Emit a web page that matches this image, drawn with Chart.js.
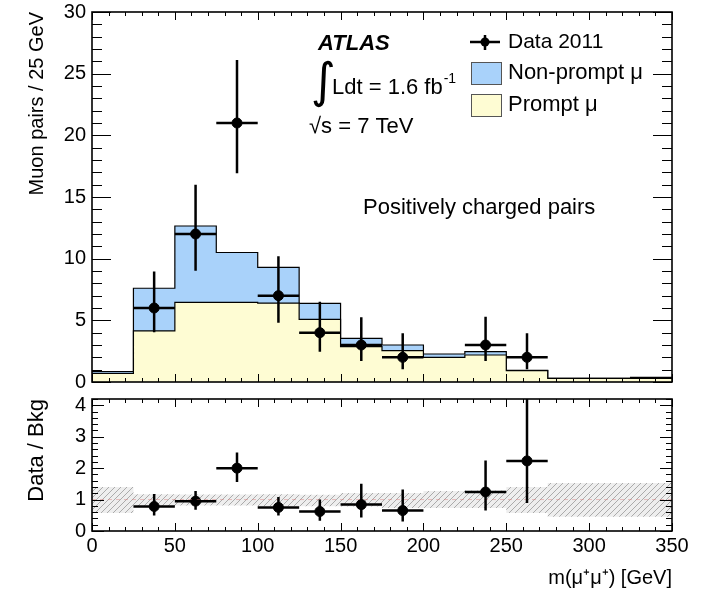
<!DOCTYPE html>
<html>
<head>
<meta charset="utf-8">
<script src="https://cdn.jsdelivr.net/npm/chart.js@4.4.0/dist/chart.umd.min.js"></script>
<style>
  html, body { margin: 0; padding: 0; background: #fff; }
  #wrap { position: relative; width: 701px; height: 593px; }
  #topBox { position: absolute; left: 0; top: 0; width: 701px; height: 392px; }
  #ratioBox { position: absolute; left: 0; top: 392px; width: 701px; height: 201px; }
</style>
</head>
<body>
<div id="wrap">
  <div id="topBox"><canvas id="mainChart"></canvas></div>
  <div id="ratioBox"><canvas id="ratioChart"></canvas></div>
</div>
<script>
// ---- data (25 GeV bins) ----
var binEdges   = [0, 25, 50, 75, 100, 125, 150, 175, 200, 225, 250, 275, 300, 325, 350];
var binCentres = [12.5, 37.5, 62.5, 87.5, 112.5, 137.5, 162.5, 187.5, 212.5, 237.5, 262.5, 287.5, 312.5, 337.5];

var promptMu    = [0.70, 4.14, 6.46, 6.46, 6.40, 5.08, 2.87, 2.54, 2.00, 2.19, 0.92, 0.30, 0.30, 0.30];
var nonPromptMu = [0.15, 3.46, 6.19, 4.04, 2.90, 1.30, 0.67, 0.46, 0.27, 0.27, 0.02, 0.00, 0.00, 0.08];

var data2011   = [null, 6, 12, 21, 7, 4, 3, 2, null, 3, 2, null, null, null];
var dataErrLo  = [null, 4.03, 9.03, 16.93, 4.81, 2.46, 1.70, 1.03, null, 1.70, 1.03, null, null, null];
var dataErrHi  = [null, 8.95, 16.0, 26.1, 10.2, 6.50, 5.25, 3.95, null, 5.30, 3.95, null, null, null];

var ratio      = [null, 0.78, 0.95, 2.00, 0.75, 0.62, 0.84, 0.65, null, 1.24, 2.23, null, null, null];
var ratioErrLo = [null, 0.49, 0.68, 1.56, 0.49, 0.33, 0.43, 0.30, null, 0.65, 0.89, null, null, null];
var ratioErrHi = [null, 1.18, 1.27, 2.50, 1.08, 1.00, 1.50, 1.32, null, 2.24, 4.40, null, null, null];

var bandLo = [0.57, 0.79, 0.81, 0.81, 0.79, 0.79, 0.78, 0.73, 0.73, 0.73, 0.57, 0.45, 0.45, 0.45];
var bandHi = [1.40, 1.17, 1.16, 1.16, 1.17, 1.15, 1.21, 1.21, 1.27, 1.29, 1.40, 1.53, 1.53, 1.53];

var blueFill = '#a9d2fa';
var yellowFill = '#fefcd3';

Chart.defaults.font.family = "'Liberation Sans', Arial, Helvetica, sans-serif";
Chart.defaults.font.size = 20;
Chart.defaults.color = '#000';

// histogram outline points: value of bin i is held from edge i to edge i+1
function histPoints(vals) {
    var pts = [];
    for (var i = 0; i < vals.length; i++) {
        pts.push({ x: binEdges[i], y: vals[i] });
    }
    pts.push({ x: binEdges[vals.length], y: vals[vals.length - 1] });
    return pts;
}

function centrePoints(vals) {
    var pts = [];
    for (var i = 0; i < vals.length; i++) {
        if (vals[i] !== null) pts.push({ x: binCentres[i], y: vals[i] });
    }
    return pts;
}

var totalBkg = promptMu.map(function(v, i) { return v + nonPromptMu[i]; });

function hatchPattern() {
    var c = document.createElement('canvas');
    c.width = 6; c.height = 6;
    var g = c.getContext('2d');
    g.fillStyle = '#eeeeee';
    g.fillRect(0, 0, 6, 6);
    g.strokeStyle = '#ababab';
    g.lineWidth = 1;
    g.beginPath();
    g.moveTo(0, 6); g.lineTo(6, 0);
    g.moveTo(-1, 1); g.lineTo(1, -1);
    g.moveTo(5, 7); g.lineTo(7, 5);
    g.stroke();
    return g.createPattern(c, 'repeat');
}

// ---- ROOT style frame with inward ticks on all four sides ----
function tickValues(min, max, step) {
    var out = [];
    for (var k = 0; min + k * step <= max + 1e-9; k++) out.push(min + k * step);
    return out;
}

function framePlugin(cfg) {
    return {
        id: 'frame',
        afterDraw: function(chart) {
            var ctx = chart.ctx, a = chart.chartArea;
            var xs = chart.scales.x, ys = chart.scales.y;
            ctx.save();
            ctx.strokeStyle = '#000';
            ctx.lineWidth = 1;
            ctx.beginPath();
            tickValues(xs.min, xs.max, cfg.xMinor).forEach(function(v) {
                var major = Math.abs(v / cfg.xMajor - Math.round(v / cfg.xMajor)) < 1e-6;
                var len = major ? cfg.xMajLen : cfg.xMinLen;
                var px = Math.round(xs.getPixelForValue(v)) + 0.5;
                ctx.moveTo(px, a.bottom); ctx.lineTo(px, a.bottom - len);
                ctx.moveTo(px, a.top); ctx.lineTo(px, a.top + len);
            });
            tickValues(ys.min, ys.max, cfg.yMinor).forEach(function(v) {
                var major = Math.abs(v / cfg.yMajor - Math.round(v / cfg.yMajor)) < 1e-6;
                var len = major ? cfg.yMajLen : cfg.yMinLen;
                var py = Math.round(ys.getPixelForValue(v)) + 0.5;
                ctx.moveTo(a.left, py); ctx.lineTo(a.left + len, py);
                ctx.moveTo(a.right, py); ctx.lineTo(a.right - len, py);
            });
            ctx.stroke();
            ctx.lineWidth = 1.6;
            ctx.strokeRect(a.left, a.top, a.right - a.left, a.bottom - a.top);
            ctx.restore();
        }
    };
}

function errorBarPlugin(vals, lo, hi, refLine) {
    return {
        id: 'errorBars',
        afterDatasetsDraw: function(chart) {
            var ctx = chart.ctx, a = chart.chartArea;
            var xs = chart.scales.x, ys = chart.scales.y;
            ctx.save();
            ctx.beginPath();
            ctx.rect(a.left, a.top, a.right - a.left, a.bottom - a.top);
            ctx.clip();
            if (refLine) {
                ctx.strokeStyle = 'rgba(215, 120, 120, 0.45)';
                ctx.lineWidth = 1;
                ctx.setLineDash([4, 4]);
                ctx.beginPath();
                var y1 = ys.getPixelForValue(1);
                ctx.moveTo(a.left, y1); ctx.lineTo(a.right, y1);
                ctx.stroke();
                ctx.setLineDash([]);
            }
            ctx.strokeStyle = '#000';
            ctx.lineWidth = 2.5;
            ctx.beginPath();
            for (var i = 0; i < vals.length; i++) {
                if (vals[i] === null) continue;
                var py = ys.getPixelForValue(vals[i]);
                var px = xs.getPixelForValue(binCentres[i]);
                ctx.moveTo(xs.getPixelForValue(binEdges[i]), py);
                ctx.lineTo(xs.getPixelForValue(binEdges[i + 1]), py);
                ctx.moveTo(px, ys.getPixelForValue(lo[i]));
                ctx.lineTo(px, ys.getPixelForValue(hi[i]));
            }
            ctx.stroke();
            ctx.restore();
        }
    };
}

var labelsPlugin = {
    id: 'atlasLabels',
    afterDraw: function(chart) {
        var ctx = chart.ctx;
        var f = "'Liberation Sans', Arial, Helvetica, sans-serif";
        ctx.save();
        ctx.fillStyle = '#000';
        ctx.textBaseline = 'middle';
        ctx.textAlign = 'left';

        ctx.font = 'italic bold 22px ' + f;
        ctx.fillText('ATLAS', 318, 44);

        ctx.font = '48px DejaVu Sans';
        ctx.fillText('\u222B', 311, 85);
        ctx.font = '22px ' + f;
        ctx.fillText('Ldt = 1.6 fb', 332, 88);
        var w = ctx.measureText('Ldt = 1.6 fb').width;
        ctx.font = '14px ' + f;
        ctx.fillText('-1', 332 + w + 1, 79);

        ctx.font = '22px ' + f;
        ctx.fillText('\u221As = 7 TeV', 309, 127);

        ctx.fillText('Positively charged pairs', 363, 208);

        // legend
        ctx.strokeStyle = '#000';
        ctx.lineWidth = 2.5;
        ctx.beginPath();
        ctx.moveTo(470, 42); ctx.lineTo(500, 42);
        ctx.moveTo(485, 35); ctx.lineTo(485, 50);
        ctx.stroke();
        ctx.beginPath();
        ctx.arc(485, 42, 4.5, 0, Math.PI * 2);
        ctx.fill();
        ctx.font = '21px ' + f;
        ctx.fillText('Data 2011', 508, 42);

        ctx.lineWidth = 1;
        ctx.strokeStyle = '#555';
        ctx.fillStyle = blueFill;
        ctx.fillRect(471, 62, 30, 22);
        ctx.strokeRect(471.5, 62.5, 30, 22);
        ctx.fillStyle = yellowFill;
        ctx.fillRect(471, 94, 30, 22);
        ctx.strokeRect(471.5, 94.5, 30, 22);
        ctx.fillStyle = '#000';
        ctx.font = '22px ' + f;
        ctx.fillText('Non-prompt \u03BC', 508, 73);
        ctx.fillText('Prompt \u03BC', 508, 105);
        ctx.restore();
    }
};

var noGrid = { display: false, drawTicks: false };

function fixWidth(w) {
    return function(s) { s.width = w; s.paddingTop = 0; s.paddingBottom = 0; };
}
function fixHeight(h) {
    return function(s) { s.height = h; s.paddingLeft = 0; s.paddingRight = 0; };
}

// ---- upper panel ----
new Chart(document.getElementById('mainChart'), {
    type: 'scatter',
    data: {
        datasets: [
            {
                label: 'Data 2011',
                data: centrePoints(data2011),
                pointRadius: 5,
                pointBackgroundColor: '#000',
                pointBorderColor: '#000',
                showLine: false
            },
            {
                label: 'Prompt \u03BC',
                data: histPoints(promptMu),
                showLine: true,
                stepped: 'before',
                borderColor: '#000',
                borderWidth: 1.2,
                backgroundColor: yellowFill,
                fill: 'origin',
                pointRadius: 0
            },
            {
                label: 'Non-prompt \u03BC',
                data: histPoints(totalBkg),
                showLine: true,
                stepped: 'before',
                borderColor: '#000',
                borderWidth: 1.2,
                backgroundColor: blueFill,
                fill: '-1',
                pointRadius: 0
            }
        ]
    },
    options: {
        responsive: true,
        maintainAspectRatio: false,
        animation: false,
        events: [],
        layout: { padding: { top: 12, right: 29, bottom: 10, left: 0 } },
        plugins: { legend: { display: false }, tooltip: { enabled: false } },
        scales: {
            x: {
                type: 'linear', min: 0, max: 350,
                ticks: { display: false, stepSize: 50 },
                grid: noGrid, border: { display: false },
                afterFit: fixHeight(0)
            },
            y: {
                min: 0, max: 30,
                ticks: { stepSize: 5, padding: 6 },
                grid: noGrid, border: { display: false },
                title: { display: true, text: 'Muon pairs / 25 GeV', align: 'end', padding: { top: 25, bottom: 0 } },
                afterFit: fixWidth(92)
            }
        }
    },
    plugins: [
        errorBarPlugin(data2011, dataErrLo, dataErrHi, false),
        framePlugin({ xMajor: 50, xMinor: 10, yMajor: 5, yMinor: 1, xMajLen: 8, xMinLen: 4, yMajLen: 19, yMinLen: 10 }),
        labelsPlugin
    ]
});

// ---- ratio panel ----
new Chart(document.getElementById('ratioChart'), {
    type: 'scatter',
    data: {
        datasets: [
            {
                label: 'Data / Bkg',
                data: centrePoints(ratio),
                pointRadius: 5,
                pointBackgroundColor: '#000',
                pointBorderColor: '#000',
                showLine: false
            },
            {
                label: 'Bkg uncertainty',
                data: histPoints(bandHi),
                showLine: true,
                stepped: 'before',
                borderWidth: 0,
                borderColor: 'rgba(0,0,0,0)',
                backgroundColor: hatchPattern(),
                fill: '+1',
                pointRadius: 0
            },
            {
                label: 'band low',
                data: histPoints(bandLo),
                showLine: true,
                stepped: 'before',
                borderWidth: 0,
                borderColor: 'rgba(0,0,0,0)',
                fill: false,
                pointRadius: 0
            }
        ]
    },
    options: {
        responsive: true,
        maintainAspectRatio: false,
        animation: false,
        events: [],
        layout: { padding: { top: 7, right: 29, bottom: 0, left: 0 } },
        plugins: { legend: { display: false }, tooltip: { enabled: false } },
        scales: {
            x: {
                type: 'linear', min: 0, max: 350,
                ticks: { stepSize: 50, padding: 3, maxRotation: 0, autoSkip: false },
                grid: noGrid, border: { display: false },
                title: { display: true, text: 'm(\u03BC\u207A\u03BC\u207A) [GeV]', align: 'end', padding: { top: 0, bottom: 3 } },
                afterFit: fixHeight(62)
            },
            y: {
                min: 0, max: 4.2,
                ticks: { stepSize: 1, padding: 6, includeBounds: false },
                grid: noGrid, border: { display: false },
                title: { display: true, text: 'Data / Bkg', align: 'end', font: { size: 22 }, padding: { top: 24, bottom: 0 } },
                afterFit: fixWidth(92)
            }
        }
    },
    plugins: [
        errorBarPlugin(ratio, ratioErrLo, ratioErrHi, true),
        framePlugin({ xMajor: 50, xMinor: 10, yMajor: 1, yMinor: 0.2, xMajLen: 8, xMinLen: 4, yMajLen: 12, yMinLen: 6 })
    ]
});
</script>
</body>
</html>
